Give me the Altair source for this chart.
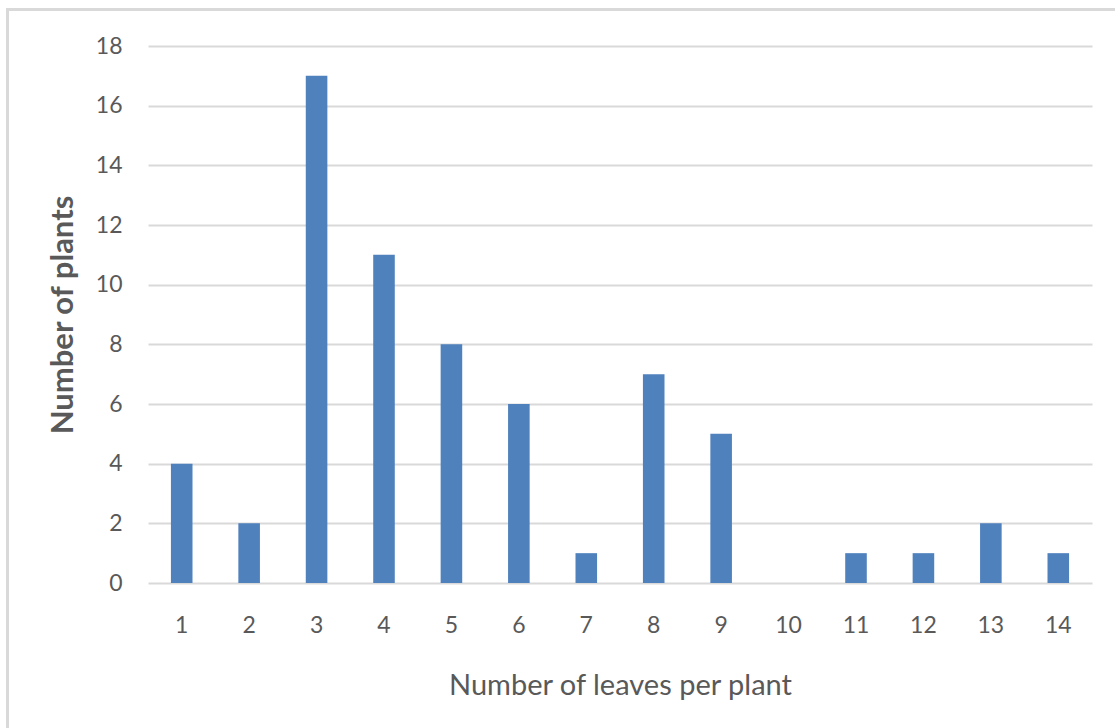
import altair as alt
import pandas as pd

# Distribution of leaf counts per plant
leaves = [1, 2, 3, 4, 5, 6, 7, 8, 9, 10, 11, 12, 13, 14]
plants = [4, 2, 17, 11, 8, 6, 1, 7, 5, 0, 1, 1, 2, 1]
y_ticks = [0, 2, 4, 6, 8, 10, 12, 14, 16, 18]

df = pd.DataFrame({"leaves": leaves, "plants": plants})

FONT = "Lato"
GREY_TEXT = "#595959"
GRID = "#d9d9d9"

bars = alt.Chart(df).mark_bar(color="#4f81bd").encode(
    x=alt.X(
        "leaves:O",
        sort=leaves,
        scale=alt.Scale(paddingInner=0.68, paddingOuter=0.34),
        axis=alt.Axis(
            title="Number of leaves per plant",
            labelAngle=0,
            labelFontSize=23,
            labelPadding=31,
            titleFontSize=29,
            titleFontWeight="normal",
            titlePadding=34,
            ticks=False,
            domain=False,
        ),
    ),
    y=alt.Y(
        "plants:Q",
        scale=alt.Scale(domain=[0, 18], nice=False),
        axis=alt.Axis(
            title="Number of plants",
            values=y_ticks,
            labelFontSize=23,
            labelPadding=26,
            titleFontSize=31,
            titleFontWeight="bold",
            titlePadding=16,
            ticks=False,
            domain=False,
            grid=True,
            gridColor=GRID,
            gridWidth=2,
        ),
    ),
)

# light frame around the chart, running off the right and bottom edges
frame = alt.Chart(df).mark_rect(
    fill="transparent", stroke=GRID, strokeWidth=3, clip=False
).encode(
    x=alt.value(-140.5),
    x2=alt.value(1100),
    y=alt.value(-36.5),
    y2=alt.value(800),
)

chart = (
    alt.layer(frame, bars)
    .properties(
        width=944,
        height=537,
        autosize=alt.AutoSizeParams(type="none"),
        padding={"left": 148, "top": 46, "right": 23, "bottom": 145},
        background="white",
    )
    .configure_view(stroke=None)
    .configure_axis(
        labelFont=FONT,
        titleFont=FONT,
        labelColor=GREY_TEXT,
        titleColor=GREY_TEXT,
    )
)

chart.save("out.html", embed_options={"renderer": "svg", "actions": False})
